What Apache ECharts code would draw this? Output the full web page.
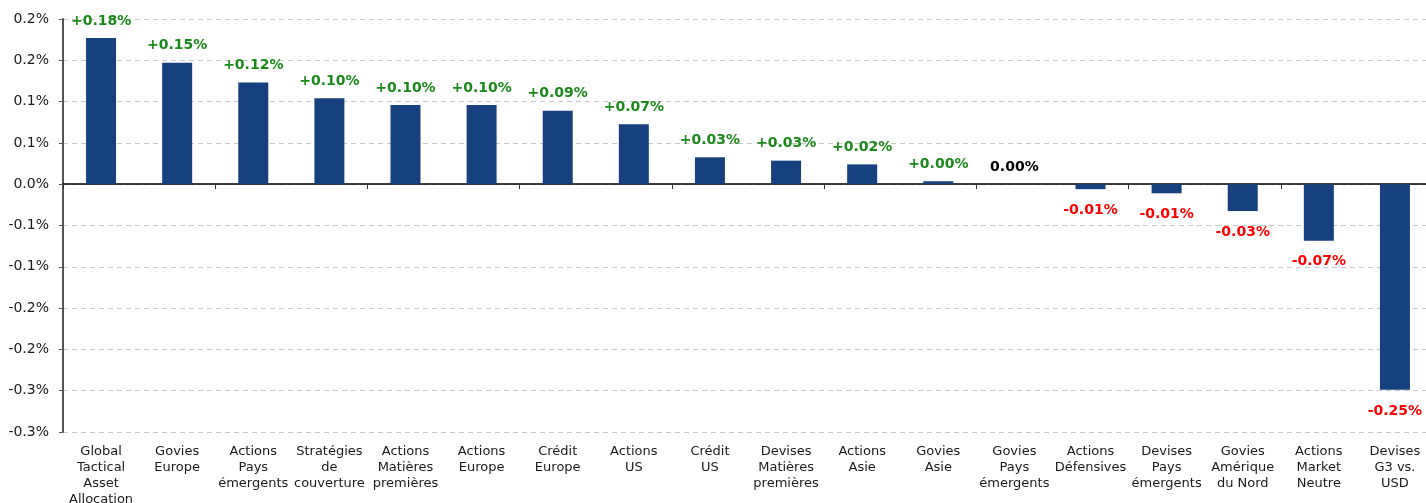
<!DOCTYPE html>
<html>
<head>
<meta charset="utf-8">
<script src="https://cdn.jsdelivr.net/npm/echarts@6/dist/echarts.min.js"></script>
<style>
  html, body { margin: 0; padding: 0; background: #fff; overflow: hidden; }
  #chart { width: 1426px; height: 503px; }
</style>
</head>
<body>
<div id="chart"></div>
<script>
// catégories (retours à la ligne comme dans l'original)
const categories = [
  'Global\nTactical\nAsset\nAllocation',
  'Govies\nEurope',
  'Actions\nPays\némergents',
  'Stratégies\nde\ncouverture',
  'Actions\nMatières\npremières',
  'Actions\nEurope',
  'Crédit\nEurope',
  'Actions\nUS',
  'Crédit\nUS',
  'Devises\nMatières\npremières',
  'Actions\nAsie',
  'Govies\nAsie',
  'Govies\nPays\némergents',
  'Actions\nDéfensives',
  'Devises\nPays\némergents',
  'Govies\nAmérique\ndu Nord',
  'Actions\nMarket\nNeutre',
  'Devises\nG3 vs.\nUSD'
];

// contribution en %
const values = [0.177, 0.147, 0.123, 0.104, 0.096, 0.096, 0.089, 0.0725, 0.0326, 0.0285, 0.024, 0.0036, 0, -0.006, -0.011, -0.0325, -0.0685, -0.249];

const valueLabels = ['+0.18%', '+0.15%', '+0.12%', '+0.10%', '+0.10%', '+0.10%', '+0.09%', '+0.07%', '+0.03%', '+0.03%', '+0.02%', '+0.00%', '0.00%', '-0.01%', '-0.01%', '-0.03%', '-0.07%', '-0.25%'];

// libellés de l'axe Y (arrondis à 1 décimale, comme Excel)
const yTickLabels = ['-0.3%', '-0.3%', '-0.2%', '-0.2%', '-0.1%', '-0.1%', '0.0%', '0.1%', '0.1%', '0.2%', '0.2%'];

const yMin = -0.3;
const yMax = 0.2;
const yStep = 0.05;

const FONT = 'DejaVu Sans';

const labelColor = (txt) => txt.startsWith('+') ? '#1a8a1a' : txt.startsWith('-') ? '#ff0000' : '#000000';

const chart = echarts.init(document.getElementById('chart'));

const option = {
  animation: false,
  grid: {
    left: 63,
    right: -7, // la dernière catégorie déborde un peu à droite
    top: 19,
    bottom: 71,
    containLabel: false,
    outerBoundsMode: 'none'
  },
  xAxis: [
    {
      // axe au niveau zéro : ligne + graduations
      type: 'category',
      data: categories,
      axisLine: { onZero: true, lineStyle: { color: '#000', width: 1.5 } },
      axisTick: { show: true, alignWithLabel: false, length: 5, lineStyle: { color: '#333' } },
      axisLabel: { show: false },
      splitLine: { show: false }
    },
    {
      // libellés en bas du graphique
      type: 'category',
      data: categories,
      position: 'bottom',
      axisLine: { show: false, onZero: false },
      axisTick: { show: false },
      axisLabel: {
        interval: 0,
        margin: 12,
        fontFamily: FONT,
        fontSize: 13,
        lineHeight: 16,
        color: '#1a1a1a',
        align: 'center',
        verticalAlign: 'top'
      }
    }
  ],
  yAxis: {
    type: 'value',
    min: yMin,
    max: yMax,
    interval: yStep,
    axisLine: { show: true, lineStyle: { color: '#555', width: 2 } },
    axisTick: { show: true, length: 4, lineStyle: { color: '#555' } },
    axisLabel: {
      margin: 14,
      fontFamily: FONT,
      fontSize: 14,
      color: '#1a1a1a',
      formatter: (v) => yTickLabels[Math.round((v - yMin) / yStep)]
    },
    splitLine: { show: true, lineStyle: { color: '#c8c8c8', type: [5, 4] } }
  },
  series: [
    {
      type: 'bar',
      xAxisIndex: 0,
      barWidth: 30,
      itemStyle: { color: '#17407e' },
      data: values.map((v, i) => ({
        value: v,
        label: {
          show: true,
          position: v < 0 ? 'bottom' : 'top',
          distance: v < 0 ? 14 : 10,
          formatter: valueLabels[i],
          color: labelColor(valueLabels[i]),
          fontFamily: FONT,
          fontWeight: 'bold',
          fontSize: 14
        }
      }))
    }
  ]
};

chart.setOption(option, true);
</script>
</body>
</html>
